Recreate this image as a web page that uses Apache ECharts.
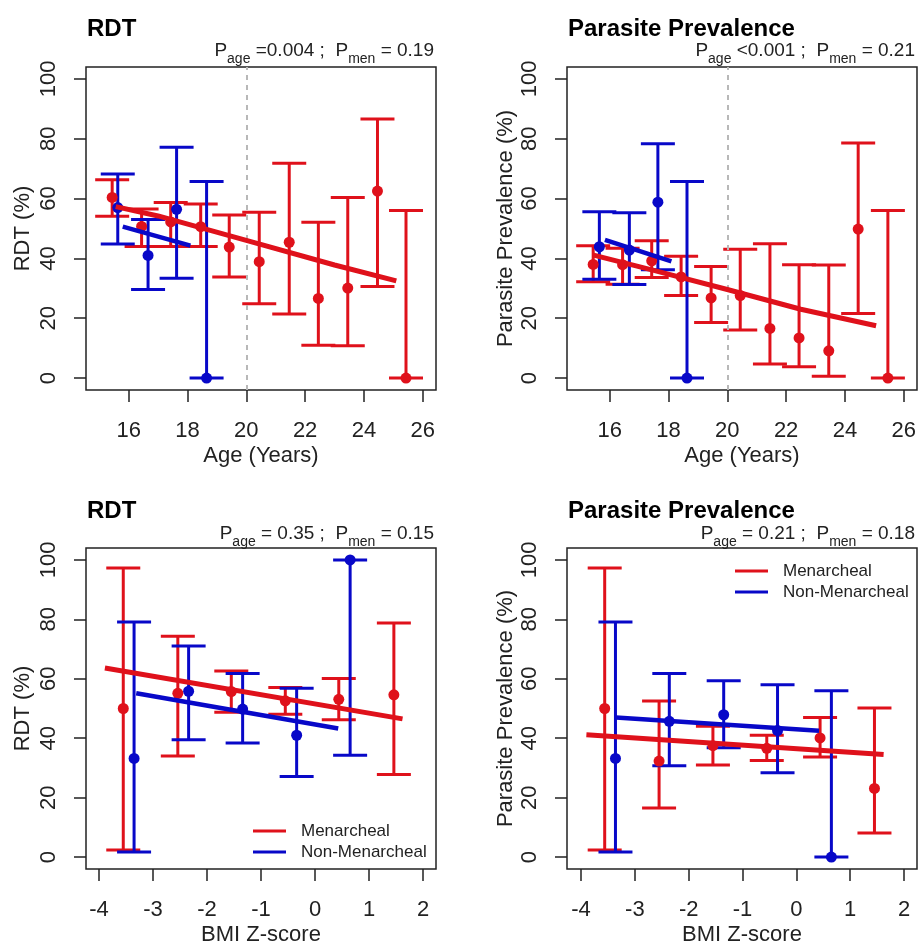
<!DOCTYPE html>
<html>
<head>
<meta charset="utf-8">
<script src="https://cdn.jsdelivr.net/npm/echarts@6/dist/echarts.min.js"></script>
<style>html,body{margin:0;padding:0;background:#fff}#c{width:919px;height:947px}</style>
</head>
<body>
<div id="c"></div>
<script>
// ---------- Panel A: RDT by age ----------
const ageRdtMenX  = [15.44,16.44,17.43,18.45,19.42,20.44,21.46,22.45,23.45,24.46,25.43];
const ageRdtMenY  = [60.4,50.7,52.2,50.6,43.8,38.9,45.4,26.6,30.1,62.5,0];
const ageRdtMenLo = [54.1,44.0,44.0,44.0,33.8,24.8,21.4,11.0,10.8,30.6,0];
const ageRdtMenHi = [66.3,56.5,58.7,58.2,54.5,55.4,71.8,52.1,60.4,86.6,56.0];
const ageRdtNonX  = [15.63,16.66,17.63,18.65];
const ageRdtNonY  = [57.0,41.0,56.4,0];
const ageRdtNonLo = [44.8,29.6,33.4,0];
const ageRdtNonHi = [68.2,53.0,77.2,65.7];
const ageRdtMenFitX = [15.56,17.0,20.0,23.0,25.1];
const ageRdtMenFitY = [57.3,54.2,46.0,37.8,32.5];
const ageRdtNonFitX = [15.8,18.1];
const ageRdtNonFitY = [50.6,44.3];

// ---------- Panel B: Parasite prevalence by age ----------
const ageParMenX  = [15.44,16.44,17.43,18.43,19.45,20.44,21.45,22.44,23.45,24.45,25.46];
const ageParMenY  = [38.0,37.9,39.2,33.8,26.8,27.6,16.6,13.4,9.1,49.8,0];
const ageParMenLo = [32.2,31.4,33.6,27.6,18.6,16.1,4.7,3.8,0.6,21.6,0];
const ageParMenHi = [44.2,43.4,45.9,40.7,37.3,43.1,44.9,37.9,37.8,78.6,56.0];
const ageParNonX  = [15.65,16.67,17.64,18.63];
const ageParNonY  = [43.9,42.8,58.8,0];
const ageParNonLo = [33.0,31.3,36.2,0];
const ageParNonHi = [55.6,55.3,78.3,65.7];
const ageParMenFitX = [15.42,17.5,20.0,22.5,25.06];
const ageParMenFitY = [41.2,36.0,29.6,23.0,17.5];
const ageParNonFitX = [15.84,18.1];
const ageParNonFitY = [46.2,39.0];

// ---------- Panel C: RDT by BMI ----------
const bmiRdtMenX  = [-3.55,-2.54,-1.55,-0.55,0.44,1.46];
const bmiRdtMenY  = [50.0,55.1,55.7,52.6,53.1,54.6];
const bmiRdtMenLo = [2.4,34.0,48.7,48.1,46.2,27.8];
const bmiRdtMenHi = [97.3,74.3,62.6,57.1,60.1,78.8];
const bmiRdtNonX  = [-3.35,-2.34,-1.34,-0.34,0.65];
const bmiRdtNonY  = [33.2,55.8,49.8,41.0,100];
const bmiRdtNonLo = [1.7,39.5,38.4,27.1,34.3];
const bmiRdtNonHi = [79.1,71.0,61.8,56.8,100];
const bmiRdtMenFitX = [-3.89,1.62];
const bmiRdtMenFitY = [63.6,46.5];
const bmiRdtNonFitX = [-3.31,0.43];
const bmiRdtNonFitY = [55.1,43.3];

// ---------- Panel D: Parasite prevalence by BMI ----------
const bmiParMenX  = [-3.56,-2.55,-1.55,-0.55,0.44,1.45];
const bmiParMenY  = [50.0,32.3,37.5,36.6,40.1,23.1];
const bmiParMenLo = [2.4,16.5,31.0,32.5,33.7,8.1];
const bmiParMenHi = [97.3,52.5,44.0,41.0,47.0,50.2];
const bmiParNonX  = [-3.36,-2.36,-1.35,-0.35,0.65];
const bmiParNonY  = [33.2,45.7,47.9,42.6,0];
const bmiParNonLo = [1.7,30.7,36.8,28.4,0];
const bmiParNonHi = [79.1,61.8,59.3,58.0,56.0];
const bmiParMenFitX = [-3.90,1.62];
const bmiParMenFitY = [41.2,34.5];
const bmiParNonFitX = [-3.35,0.42];
const bmiParNonFitY = [47.0,42.5];

// ---------- Ticks and labels ----------
const ageTicks = [16,18,20,22,24,26];
const bmiTicks = [-4,-3,-2,-1,0,1,2];
const pctTicks = [0,20,40,60,80,100];
const panelTitles = ['RDT','Parasite Prevalence','RDT','Parasite Prevalence'];
const yNames = ['RDT (%)','Parasite Prevalence (%)','RDT (%)','Parasite Prevalence (%)'];
const xNames = ['Age (Years)','Age (Years)','BMI Z-score','BMI Z-score'];
const pAgeText = ['=0.004','<0.001','= 0.35','= 0.21'];
const pMenText = ['= 0.19','= 0.21','= 0.15','= 0.18'];
const cutoffAge = 20;

const RED = '#DF111B', BLUE = '#0808C8', INK = '#222';
const FONT = '"Liberation Sans", Arial, sans-serif';

const panels = [
  {menX:ageRdtMenX,menY:ageRdtMenY,menLo:ageRdtMenLo,menHi:ageRdtMenHi,nonX:ageRdtNonX,nonY:ageRdtNonY,nonLo:ageRdtNonLo,nonHi:ageRdtNonHi,mfx:ageRdtMenFitX,mfy:ageRdtMenFitY,nfx:ageRdtNonFitX,nfy:ageRdtNonFitY},
  {menX:ageParMenX,menY:ageParMenY,menLo:ageParMenLo,menHi:ageParMenHi,nonX:ageParNonX,nonY:ageParNonY,nonLo:ageParNonLo,nonHi:ageParNonHi,mfx:ageParMenFitX,mfy:ageParMenFitY,nfx:ageParNonFitX,nfy:ageParNonFitY},
  {menX:bmiRdtMenX,menY:bmiRdtMenY,menLo:bmiRdtMenLo,menHi:bmiRdtMenHi,nonX:bmiRdtNonX,nonY:bmiRdtNonY,nonLo:bmiRdtNonLo,nonHi:bmiRdtNonHi,mfx:bmiRdtMenFitX,mfy:bmiRdtMenFitY,nfx:bmiRdtNonFitX,nfy:bmiRdtNonFitY},
  {menX:bmiParMenX,menY:bmiParMenY,menLo:bmiParMenLo,menHi:bmiParMenHi,nonX:bmiParNonX,nonY:bmiParNonY,nonLo:bmiParNonLo,nonHi:bmiParNonHi,mfx:bmiParMenFitX,mfy:bmiParMenFitY,nfx:bmiParNonFitX,nfy:bmiParNonFitY}
];

const gridPos = [
  {left:86, top:67, width:350, height:323},
  {left:567, top:67, width:350, height:323},
  {left:86, top:548, width:350, height:324},
  {left:567, top:548, width:350, height:324}
];
const xRange = [[14.55,26.45],[14.55,26.45],[-4.24,2.24],[-4.26,2.24]];
const xTickSets = [ageTicks, ageTicks, bmiTicks, bmiTicks];

function zip(a,b){ return a.map((v,i)=>[v,b[i]]); }
function zip3(a,b,c){ return a.map((v,i)=>[v,b[i],c[i]]); }

function errRenderer(color){
  return function(params, api){
    const x = api.value(0), lo = api.value(1), hi = api.value(2);
    const pLo = api.coord([x, lo]), pHi = api.coord([x, hi]);
    const w = 17;
    const style = {stroke: color, lineWidth: 3};
    return {type:'group', children:[
      {type:'line', shape:{x1:pLo[0],y1:pLo[1],x2:pHi[0],y2:pHi[1]}, style},
      {type:'line', shape:{x1:pHi[0]-w,y1:pHi[1],x2:pHi[0]+w,y2:pHi[1]}, style},
      {type:'line', shape:{x1:pLo[0]-w,y1:pLo[1],x2:pLo[0]+w,y2:pLo[1]}, style}
    ]};
  };
}

const grid = gridPos.map(g => Object.assign({show:true, borderColor:INK, borderWidth:1.5, backgroundColor:'#fff', containLabel:false}, g));

const xAxis = panels.map((p,i)=>({
  type:'value', gridIndex:i, min:xRange[i][0], max:xRange[i][1], position:'bottom',
  name:xNames[i], nameLocation:'middle', nameGap:55,
  nameTextStyle:{fontFamily:FONT, fontSize:22, color:INK},
  axisLine:{show:false, onZero:false},
  axisTick:{show:true, length:12, lineStyle:{color:INK, width:1.5}, customValues:xTickSets[i]},
  axisLabel:{fontFamily:FONT, fontSize:22, color:INK, margin:30, customValues:xTickSets[i]},
  splitLine:{show:false}
}));

const yAxis = panels.map((p,i)=>({
  type:'value', gridIndex:i, min:-4, max:104, position:'left',
  name:yNames[i], nameLocation:'middle', nameGap:(i%2===0?52:50),
  nameTextStyle:{fontFamily:FONT, fontSize:22, color:INK},
  axisLine:{show:false, onZero:false},
  axisTick:{show:true, length:12, lineStyle:{color:INK, width:1.5}, customValues:pctTicks},
  axisLabel:{fontFamily:FONT, fontSize:22, color:INK, rotate:90, margin:26, customValues:pctTicks},
  splitLine:{show:false}
}));

const series = [];
panels.forEach((p,i)=>{
  series.push({type:'custom', name:'errMen'+i, xAxisIndex:i, yAxisIndex:i, renderItem:errRenderer(RED),
    encode:{x:0, y:[1,2]}, data:zip3(p.menX,p.menLo,p.menHi), z:2, silent:true});
  series.push({type:'custom', name:'errNon'+i, xAxisIndex:i, yAxisIndex:i, renderItem:errRenderer(BLUE),
    encode:{x:0, y:[1,2]}, data:zip3(p.nonX,p.nonLo,p.nonHi), z:3, silent:true});
  series.push({type:'scatter', name:'ptMen'+i, xAxisIndex:i, yAxisIndex:i, data:zip(p.menX,p.menY),
    symbolSize:11, itemStyle:{color:RED, opacity:1}, z:4, silent:true});
  series.push({type:'scatter', name:'ptNon'+i, xAxisIndex:i, yAxisIndex:i, data:zip(p.nonX,p.nonY),
    symbolSize:11, itemStyle:{color:BLUE, opacity:1}, z:5, silent:true});
  series.push({type:'line', name:'Menarcheal', xAxisIndex:i, yAxisIndex:i, data:zip(p.mfx,p.mfy),
    color:RED, showSymbol:false, symbol:'none', lineStyle:{color:RED, width:5}, z:6, silent:true});
  series.push({type:'line', name:'Non-Menarcheal', xAxisIndex:i, yAxisIndex:i, data:zip(p.nfx,p.nfy),
    color:BLUE, showSymbol:false, symbol:'none', lineStyle:{color:BLUE, width:4.5}, z:7, silent:true});
  if (i < 2) {
    series.push({type:'line', name:'cut'+i, xAxisIndex:i, yAxisIndex:i, data:[], z:1, silent:true,
      markLine:{silent:true, symbol:['none','none'], label:{show:false},
        lineStyle:{color:'#b8b8b8', width:2, type:[5,5]},
        data:[{xAxis:cutoffAge}]}});
  }
});

const titleLeft = [87, 568, 87, 568];
const titleTop = [17, 17, 499, 499];
const pRight = [485, 4, 485, 4];
const pTop = [41, 41, 524, 524];
const title = [];
panels.forEach((p,i)=>{
  title.push({text:panelTitles[i], left:titleLeft[i], top:titleTop[i], padding:0,
    textStyle:{fontFamily:FONT, fontSize:24, fontWeight:'bold', color:'#000'}});
  title.push({
    text:'{p|P}{s|age}{p| ' + pAgeText[i] + ' ;  P}{s|men}{p| ' + pMenText[i] + '}',
    right:pRight[i], top:pTop[i], padding:0,
    textStyle:{fontWeight:'normal', fontFamily:FONT, rich:{
      p:{fontFamily:FONT, fontSize:19, fontWeight:'normal', color:INK, lineHeight:21, verticalAlign:'top'},
      s:{fontFamily:FONT, fontSize:14, fontWeight:'normal', color:INK, lineHeight:15, padding:[11,0,0,0], verticalAlign:'top'}
    }}
  });
});

const legendData = [{name:'Menarcheal', icon:'rect'}, {name:'Non-Menarcheal', icon:'rect'}];
const legendCommon = {orient:'vertical', itemWidth:33, itemHeight:3, itemGap:3, selectedMode:false, padding:0,
  textStyle:{fontFamily:FONT, fontSize:17, color:INK, padding:[0,0,0,10], lineHeight:18}};
const legend = [
  Object.assign({data:legendData, left:253, top:822}, legendCommon),
  Object.assign({data:legendData, left:735, top:562}, legendCommon)
];

const chart = echarts.init(document.getElementById('c'), null, {renderer:'canvas'});
chart.setOption({
  animation:false,
  backgroundColor:'#fff',
  title, legend, grid, xAxis, yAxis, series
});
</script>
</body>
</html>
